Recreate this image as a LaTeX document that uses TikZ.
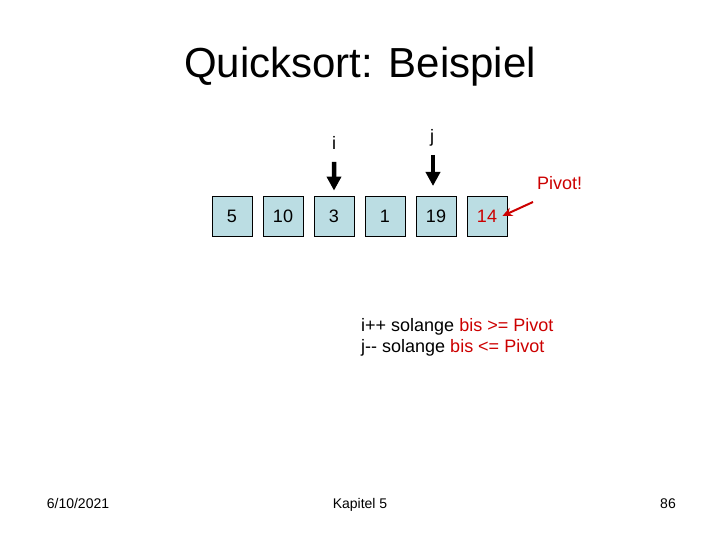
\documentclass[tikz,border=0pt]{standalone}
\usepackage{fontspec}
\setmainfont{Liberation Sans}
\usetikzlibrary{arrows.meta,positioning}
\definecolor{cellblue}{RGB}{187,221,227}
\definecolor{pivred}{RGB}{204,0,0}

\begin{document}
\begin{tikzpicture}[
  x=1pt, y=-1pt,
  cell/.style={rectangle, draw, line width=0.8pt, fill=cellblue, minimum width=40pt,
               minimum height=40pt, inner sep=0pt,
               font=\fontsize{18}{21}\selectfont},
  txt/.style={inner sep=0pt, font=\fontsize{18}{21}\selectfont},
  foot/.style={inner sep=0pt, font=\fontsize{14}{16}\selectfont},
  ptr/.style={draw, line width=4.5pt, -{Triangle[length=14pt,width=14pt]}},
  pivarr/.style={draw, pivred, line width=2pt, -{Stealth[length=10pt,width=9pt]}},
  node distance=0.5cm and 10.2pt
]
\useasboundingbox (0,0) rectangle (720,540);
% title
\node[inner sep=0pt, font=\fontsize{42}{48}\selectfont, anchor=base] (title) at (360,78) {Quicksort: Beispiel};
% array
\node[cell] (c1) at (232,216) {5};
\node[cell, right=of c1] (c2) {10};
\node[cell, right=of c2] (c3) {3};
\node[cell, right=of c3] (c4) {1};
\node[cell, right=of c4] (c5) {19};
\node[cell, right=of c5, text=pivred] (c6) {14};
% pointers
\node[txt, anchor=base] (ilbl) at (334,150) {i};
\node[txt, anchor=base] (jlbl) at (432,143) {j};
\coordinate (itop) at (334,162);
\coordinate (jtop) at (433,155);
\draw[ptr] (itop) -- ([yshift=5pt]c3.north);
\draw[ptr] (jtop) -- (433,186);
% pivot
\node[txt, text=pivred, anchor=base west] (piv) at (537,190) {Pivot!};
\coordinate (pfrom) at (533,202);
\draw[pivarr] (pfrom) -- ([xshift=-5pt]c6.east);
% rules
\node[txt, anchor=base west] (rule1) at (361,331) {i++ solange \textcolor{pivred}{bis >= Pivot}};
\node[txt, anchor=base west] (rule2) at ([yshift=-21pt]rule1.base west) {j-{}- solange \textcolor{pivred}{bis <= Pivot}};
% footer
\node[foot, anchor=base] (date) at (78,508) {6/10/2021};
\node[foot, anchor=base] (chap) at (360,508) {Kapitel 5};
\node[foot, anchor=base east] (page) at (676,508) {86};
\end{tikzpicture}
\end{document}
